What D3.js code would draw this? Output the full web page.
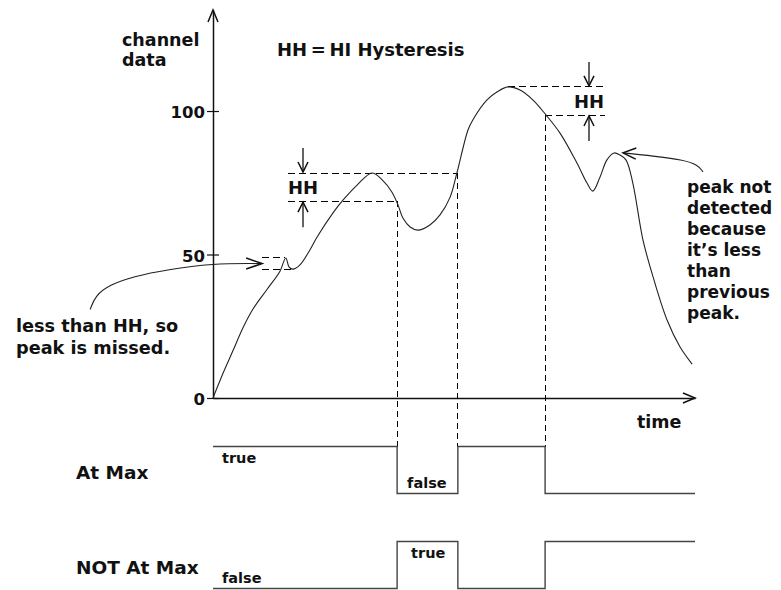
<!DOCTYPE html>
<html>
<head>
<meta charset="utf-8">
<script src="https://cdn.jsdelivr.net/npm/d3@7"></script>
<style>
  body { margin: 0; background: #fff; }
  svg text { font-family: "DejaVu Sans", sans-serif; font-weight: bold; fill: #111; }
</style>
</head>
<body>
<div id="chart"></div>
<script>
// channel data (time 0..100, value 0..~110)
const times = [0, 2.1, 4.2, 6.2, 8.3, 11.2, 13.9, 15.1, 15.8, 16.6, 18.0, 20.1, 21.6, 24.9, 27.0,
  29.9, 33.0, 35.1, 37.1, 38.4, 39.4, 40.9, 42.5, 45.0, 47.1, 49.2, 50.6, 52.9, 53.9, 56.8,
  58.9, 61.2, 63.7, 66.4, 69.1, 72.0, 75.5, 77.6, 78.8, 80.3, 81.7, 83.2, 84.4, 85.7, 87.1,
  89.2, 91.3, 94.2, 96.9, 99.4];
const channel = [0, 8.7, 16.7, 24.4, 31.0, 37.8, 44.2, 48.8, 45.6, 44.9, 46.3, 51.6, 56.1, 64.5, 69.0,
  74.2, 78.4, 76.0, 71.8, 67.2, 62.7, 59.6, 58.5, 60.3, 63.8, 70.0, 78.4, 93.4, 96.9, 103.8,
  106.6, 108.4, 107.3, 103.8, 98.6, 92.3, 81.9, 74.9, 72.1, 77.0, 82.9, 85.4, 84.7, 82.9, 74.9,
  55.1, 42.2, 27.2, 17.8, 11.8];
const yTicks = [0, 50, 100];
const hh = 9.8;

// detected peaks: peak time, value, where the dashes start/end and where the line crosses
const peaks = [
  {t: 33.0, v: 78.4, from: 15.6, fall: 38.2, rise: 50.8},
  {t: 61.2, v: 108.4, from: 61.2, fall: 68.9, to: 81.3}
];
// small bump that is missed
const bump = {from: 10.2, topEnd: 14.9, lowEnd: 16.4, top: 48.8, low: 44.9};

// digital outputs
const sigRows = ["At Max", "NOT At Max"];
const edges = [0, 38.2, 50.8, 68.9, 100];
const atMax = [1, 0, 1, 0];
const notAtMax = [0, 1, 0, 1];
const stateText = ["false", "true"];

const W = 781, H = 590;
const svg = d3.select("#chart").append("svg")
    .attr("width", W)
    .attr("height", H);

const x = d3.scaleLinear().domain([0, 100]).range([213, 695]);
const y = d3.scaleLinear().domain([0, 135.2]).range([398, 10]);

// signal scales
const level = d3.scaleLinear().domain([0, 1]).range([493.5, 446.5]);
const rowOff = d3.scalePoint().domain(sigRows).range([0, 95]);

function arrowHead(g, tx, ty, dx, dy, len, half) {
  // open V head, pointing in direction (dx,dy)
  const nx = -dy, ny = dx;
  g.append("path")
    .attr("d", `M${tx - dx*len + nx*half},${ty - dy*len + ny*half}L${tx},${ty}L${tx - dx*len - nx*half},${ty - dy*len - ny*half}`)
    .attr("fill", "none")
    .attr("stroke", "#111")
    .attr("stroke-width", 1.5);
}

// axes
const xAxis = svg.append("g")
    .attr("transform", "translate(0," + y(0) + ")")
    .call(d3.axisBottom(x).tickValues([]).tickSizeOuter(0));
xAxis.select(".domain").attr("stroke", "#111").attr("stroke-width", 1.5);

const yAxis = svg.append("g")
    .attr("transform", "translate(" + x(0) + ",0)")
    .call(d3.axisLeft(y).tickValues(yTicks).tickSize(6).tickSizeOuter(0).tickPadding(2));
yAxis.select(".domain").attr("stroke", "#111").attr("stroke-width", 1.5);
yAxis.selectAll(".tick line").attr("x1", 6).attr("stroke", "#111").attr("stroke-width", 1.2);
yAxis.selectAll(".tick text")
    .attr("font-size", 16.5)
    .attr("font-family", "DejaVu Sans")
    .attr("font-weight", "bold")
    .attr("dy", "0.4em")
    .attr("fill", "#111");

arrowHead(svg, x(0), y(135.2), 0, -1, 12, 5);
arrowHead(svg, x(100), y(0), 1, 0, 12, 5);

// dashed guides
const dash = svg.append("g")
    .attr("stroke", "#000")
    .attr("stroke-width", 1)
    .attr("stroke-dasharray", "7,4")
    .attr("shape-rendering", "crispEdges")
    .attr("fill", "none");

function hline(t0, t1, v) {
  dash.append("line").attr("x1", x(t0)).attr("x2", x(t1)).attr("y1", y(v)).attr("y2", y(v));
}
function vline(t, v) {
  dash.append("line").attr("x1", x(t)).attr("x2", x(t)).attr("y1", y(v)).attr("y2", level(1))
      .attr("stroke-dasharray", "6,4");
}

hline(peaks[0].from, peaks[0].rise, peaks[0].v);
hline(peaks[0].from, peaks[0].fall, peaks[0].v - hh);
vline(peaks[0].fall, peaks[0].v - hh);
vline(peaks[0].rise, peaks[0].v);
hline(peaks[1].t, peaks[1].to, peaks[1].v);
hline(peaks[1].fall, peaks[1].to, peaks[1].v - hh);
vline(peaks[1].fall, peaks[1].v - hh);

hline(bump.from, bump.topEnd, bump.top);
hline(bump.from, bump.lowEnd, bump.low);

// channel curve
const line = d3.line()
    .x((d, i) => x(times[i]))
    .y(d => y(d))
    .curve(d3.curveCatmullRom.alpha(0.5));

svg.append("path")
    .datum(channel)
    .attr("d", line)
    .attr("fill", "none")
    .attr("stroke", "#222")
    .attr("stroke-width", 1.1);

// HH markers
function hhMark(cx, vTop) {
  const yt = y(vTop), yb = y(vTop - hh);
  svg.append("line").attr("x1", cx).attr("x2", cx).attr("y1", yt - 25).attr("y2", yt - 1)
      .attr("stroke", "#111").attr("stroke-width", 1.3);
  arrowHead(svg, cx, yt - 1, 0, 1, 10, 5);
  svg.append("line").attr("x1", cx).attr("x2", cx).attr("y1", yb + 26).attr("y2", yb + 1)
      .attr("stroke", "#111").attr("stroke-width", 1.3);
  arrowHead(svg, cx, yb + 1, 0, -1, 10, 5);
  svg.append("text").attr("x", cx).attr("y", (yt + yb) / 2 + 7)
      .attr("text-anchor", "middle").attr("font-size", 18).text("HH");
}
hhMark(303, peaks[0].v);
hhMark(589, peaks[1].v);

// leader for the missed bump
const leader = d3.line().curve(d3.curveBasis);
const tip1 = [x(bump.from), (y(bump.top) + y(bump.low)) / 2];
const off1 = [[-172, 46], [-167, 32], [-152, 21], [-129, 13], [-95, 6], [-49, 0], [-8, 0]];
svg.append("path")
    .attr("d", leader(off1.map(o => [tip1[0] + o[0], tip1[1] + o[1]])))
    .attr("fill", "none").attr("stroke", "#222").attr("stroke-width", 1.1);
svg.append("line").attr("x1", tip1[0] - 10).attr("x2", tip1[0]).attr("y1", tip1[1]).attr("y2", tip1[1])
    .attr("stroke", "#222").attr("stroke-width", 1.1);
arrowHead(svg, tip1[0], tip1[1], 1, 0, 16, 5.5);

// leader for the undetected peak
const tip2 = [x(83.2) + 9, y(85.4)];
const off2 = [[80, 19], [75, 12], [60, 7], [30, 3], [0, 0]];
svg.append("path")
    .attr("d", leader(off2.map(o => [tip2[0] + o[0], tip2[1] + o[1]])))
    .attr("fill", "none").attr("stroke", "#222").attr("stroke-width", 1.1);
arrowHead(svg, tip2[0], tip2[1], -1, -0.05, 13, 5.5);

// text
svg.append("text").attr("x", 122).attr("y", 46).attr("font-size", 17.5).text("channel");
svg.append("text").attr("x", 122).attr("y", 66).attr("font-size", 17.5).text("data");
svg.append("text").attr("x", 277).attr("y", 56).attr("font-size", 18).text("HH\u2009=\u2009HI Hysteresis");
svg.append("text").attr("x", 637).attr("y", 428).attr("font-size", 17.5).text("time");

const note1 = ["less than HH, so", "peak is missed."];
svg.append("text").attr("font-size", 17.7)
  .selectAll("tspan").data(note1).join("tspan")
    .attr("x", 16).attr("y", (d, i) => 332 + i * 22).text(d => d);

const note2 = ["peak not", "detected", "because", "it\u2019s less", "than", "previous", "peak."];
svg.append("text").attr("font-size", 17)
  .selectAll("tspan").data(note2).join("tspan")
    .attr("x", 687).attr("y", (d, i) => 193 + i * 21).text(d => d);

// digital signals
const sigData = {"At Max": atMax, "NOT At Max": notAtMax};
const stepLine = d3.line().curve(d3.curveStepAfter);

sigRows.forEach(row => {
  const st = sigData[row];
  const pts = edges.map((e, i) => [x(e), level(st[Math.min(i, st.length - 1)]) + rowOff(row)]);
  svg.append("path")
      .attr("d", stepLine(pts))
      .attr("fill", "none")
      .attr("stroke", "#444")
      .attr("stroke-width", 1.4);

  svg.append("text")
      .attr("x", 76).attr("y", level(0.5) + rowOff(row) + 9)
      .attr("font-size", 18.5).text(row);

  // state names on the first two segments
  [0, 1].forEach(i => {
    const s = st[i];
    const yy = s ? level(1) + rowOff(row) + 16 : level(0) + rowOff(row) - 6;
    svg.append("text")
        .attr("x", x(edges[i]) + (i === 0 ? 9 : (s ? 14 : 10)))
        .attr("y", yy)
        .attr("font-size", 14.5)
        .text(stateText[s]);
  });
});
</script>
</body>
</html>
